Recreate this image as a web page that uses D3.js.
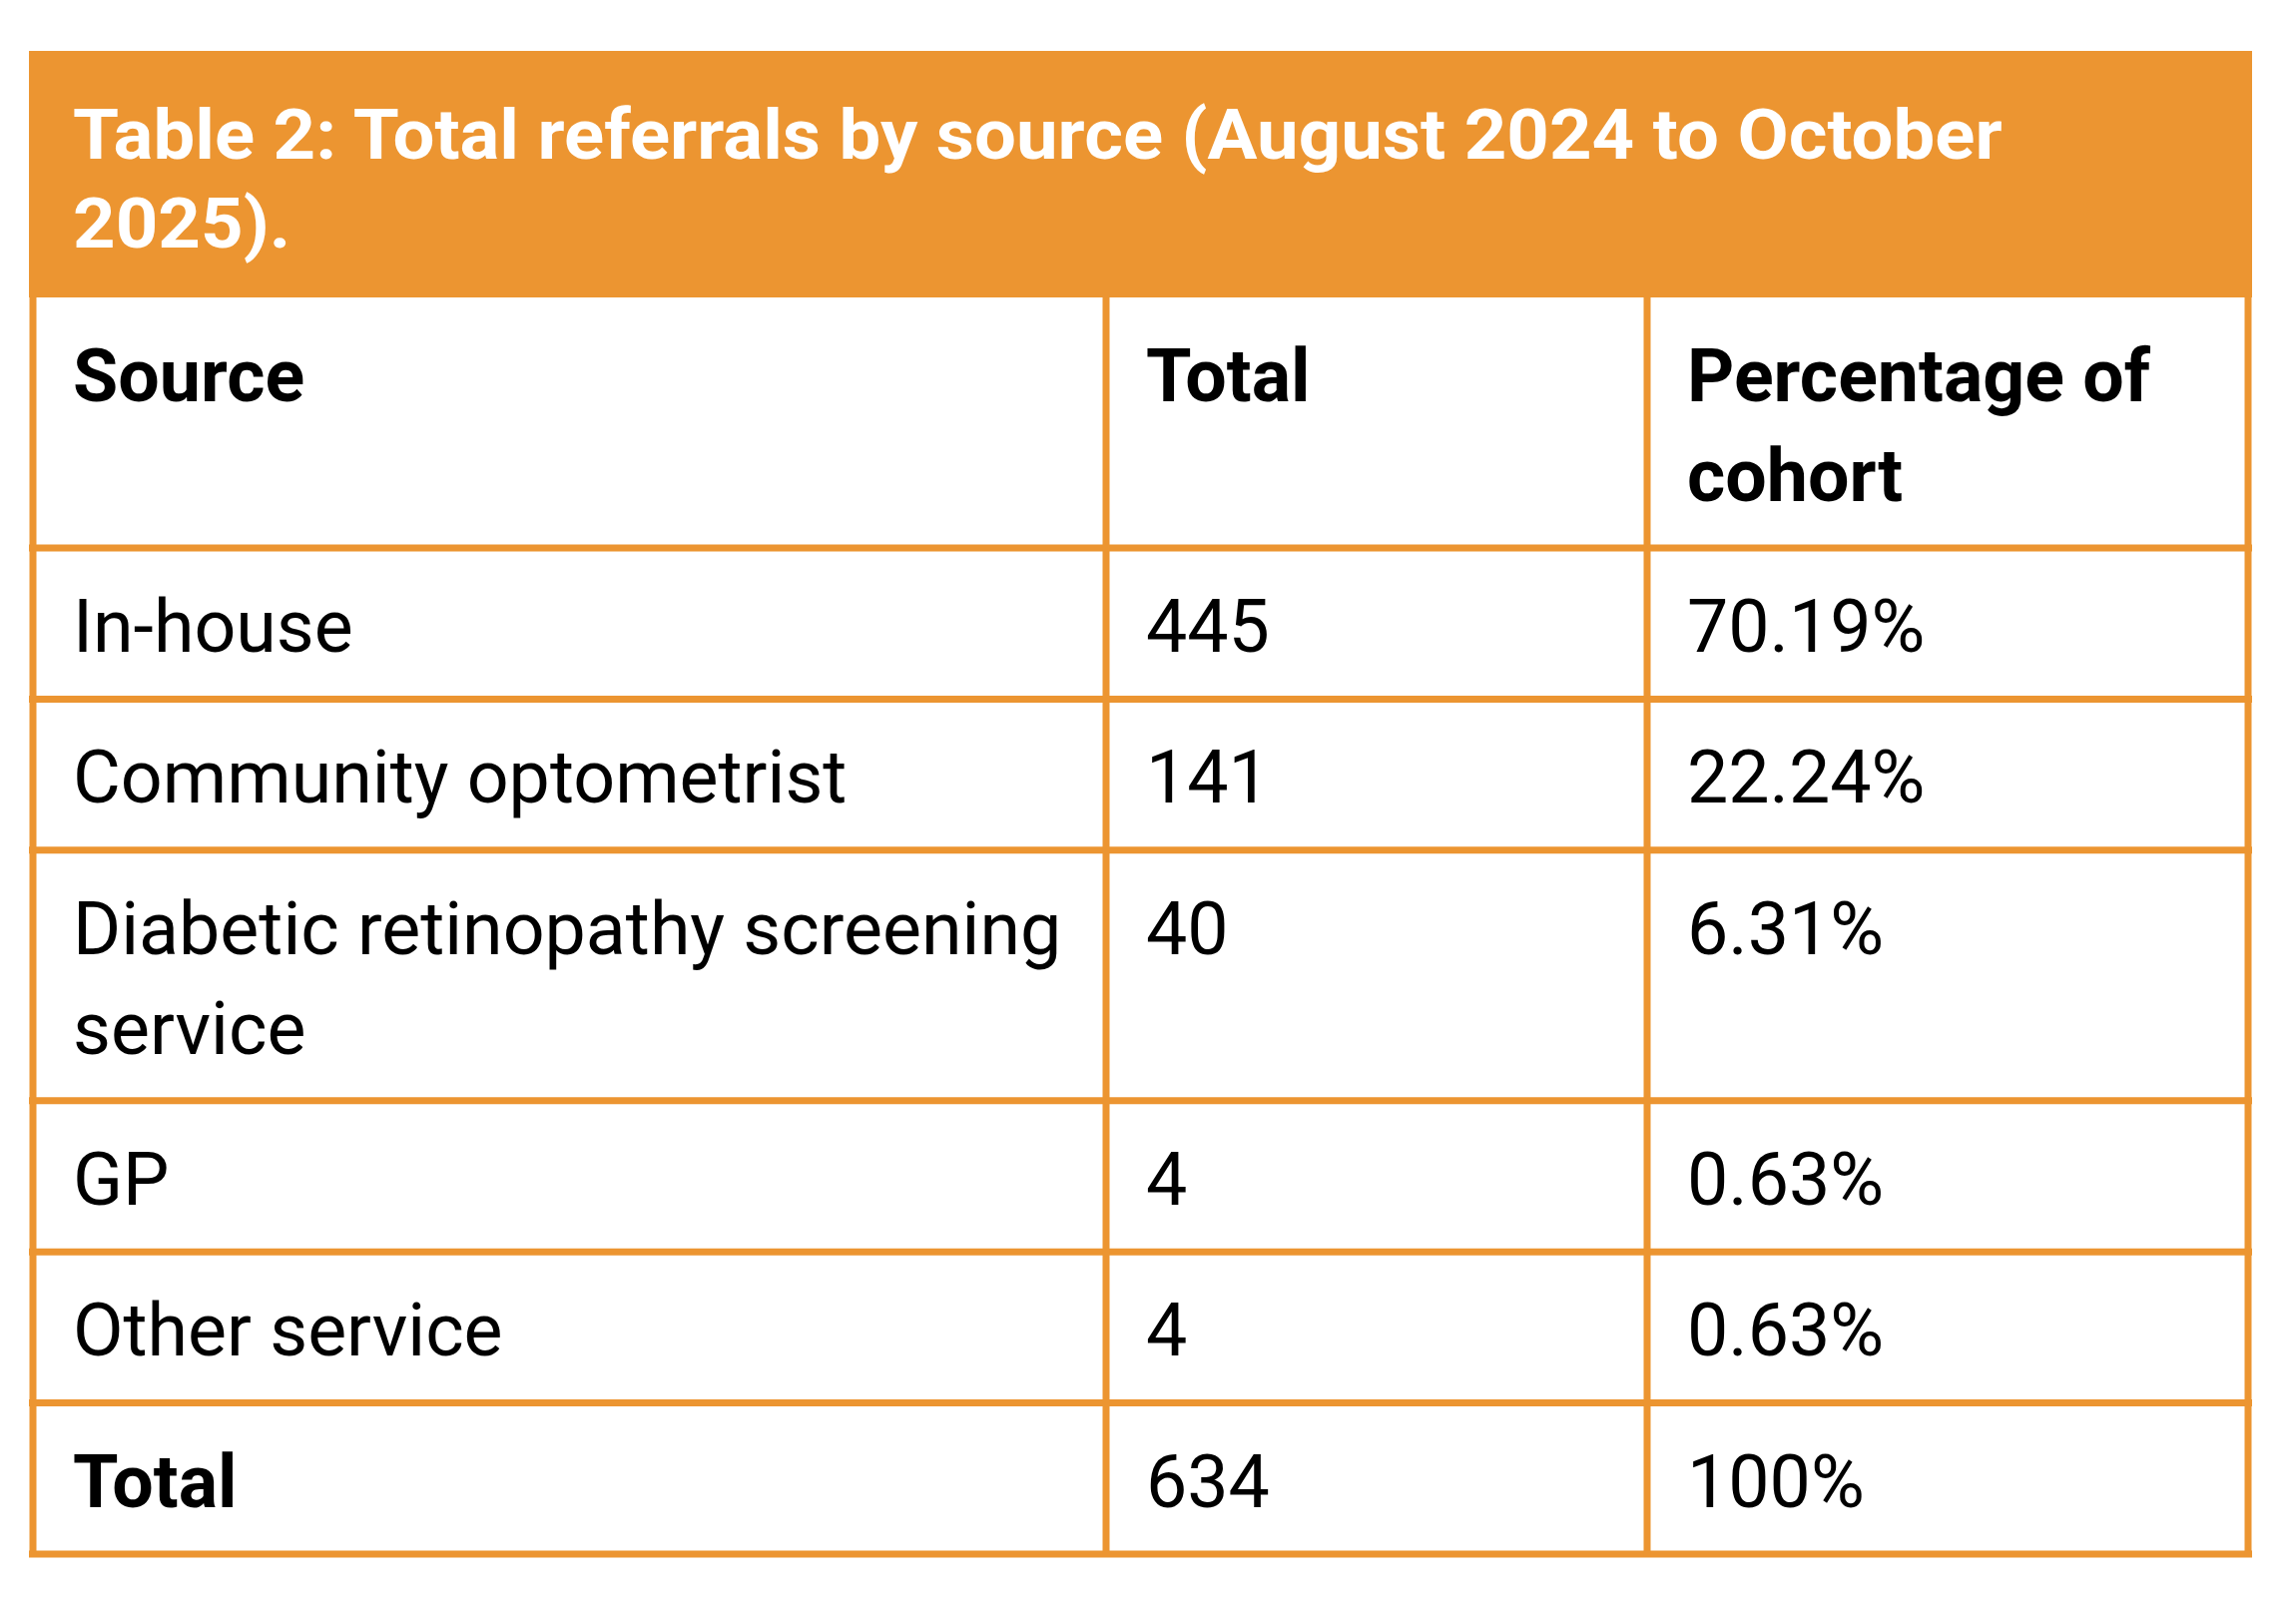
<!DOCTYPE html>
<html>
<head>
<meta charset="utf-8">
<script src="https://cdn.jsdelivr.net/npm/d3@7.9.0/dist/d3.min.js"></script>
<style>
  html, body { margin: 0; padding: 0; background: #fff; }
  svg { display: block; font-family: Roboto, "Noto Sans", sans-serif; }
</style>
</head>
<body>
<svg id="table" width="2300" height="1601"></svg>
<script>
const titleLines = ["Table 2: Total referrals by source (August 2024 to October", "2025)."];
const headers = ["Source", "Total", "Percentage of\ncohort"];
const sources = ["In-house", "Community optometrist", "Diabetic retinopathy screening\nservice", "GP", "Other service", "Total"];
const totals = [445, 141, 40, 4, 4, 634];
const percentages = ["70.19%", "22.24%", "6.31%", "0.63%", "0.63%", "100%"];

const orange = "#EC9531";
const svg = d3.select("#table");

// rows: header first, then the data rows
const rows = [{ cells: headers, bold: [true, true, true] }].concat(
  sources.map((s, i) => ({
    cells: [s, String(totals[i]), percentages[i]],
    bold: [s === "Total", false, false]
  }))
);
rows.forEach(r => r.lines = d3.max(r.cells, c => c.split("\n").length));

// vertical scale in "line units": each row = lines + padding
const pad = 0.52;
let acc = 0;
rows.forEach(r => { r.u0 = acc; acc += r.lines + pad; r.u1 = acc; });
const y = d3.scaleLinear().domain([0, acc]).range([298, 1557]);

const colEdges = [33, 1108, 1650, 2252];
const x = d3.scaleOrdinal().domain([0, 1, 2, 3]).range(colEdges);

// title band
svg.append("rect")
  .attr("x", 29).attr("y", 51)
  .attr("width", 2256 - 29).attr("height", 298 - 51)
  .attr("fill", orange);

const title = svg.append("g").attr("transform", "translate(73,0)");
title.selectAll("text")
  .data(titleLines)
  .join("text")
  .attr("y", (d, i) => 159 + i * 89)
  .attr("fill", "#fff")
  .attr("font-weight", 700)
  .attr("font-size", 70)
  .text(d => d);
// condensed look: squeeze to the reference width
const natural = title.select("text").node().getComputedTextLength();
title.attr("transform", `translate(73,0) scale(${1933 / natural},1)`);

// cell text
const rowG = svg.selectAll("g.row")
  .data(rows)
  .join("g")
  .attr("class", "row");

rowG.each(function (r) {
  const g = d3.select(this);
  r.cells.forEach((c, ci) => {
    const t = g.append("text")
      .attr("x", x(ci) + 40)
      .attr("font-size", 73.5)
      .attr("font-weight", r.bold[ci] ? 700 : 400)
      .attr("fill", "#000");
    c.split("\n").forEach((line, li) => {
      t.append("tspan")
        .attr("x", x(ci) + 40)
        .attr("y", y(r.u0) + 104 + li * 100)
        .text(line);
    });
  });
});

// grid lines
const hLines = rows.map(r => y(r.u1));
svg.selectAll("line.h")
  .data(hLines)
  .join("line")
  .attr("class", "h")
  .attr("x1", 29).attr("x2", 2256)
  .attr("y1", d => d).attr("y2", d => d)
  .attr("stroke", orange).attr("stroke-width", 7);

svg.selectAll("line.v")
  .data(colEdges)
  .join("line")
  .attr("class", "v")
  .attr("x1", d => d).attr("x2", d => d)
  .attr("y1", 296).attr("y2", 1560)
  .attr("stroke", orange).attr("stroke-width", 7);
</script>
</body>
</html>
